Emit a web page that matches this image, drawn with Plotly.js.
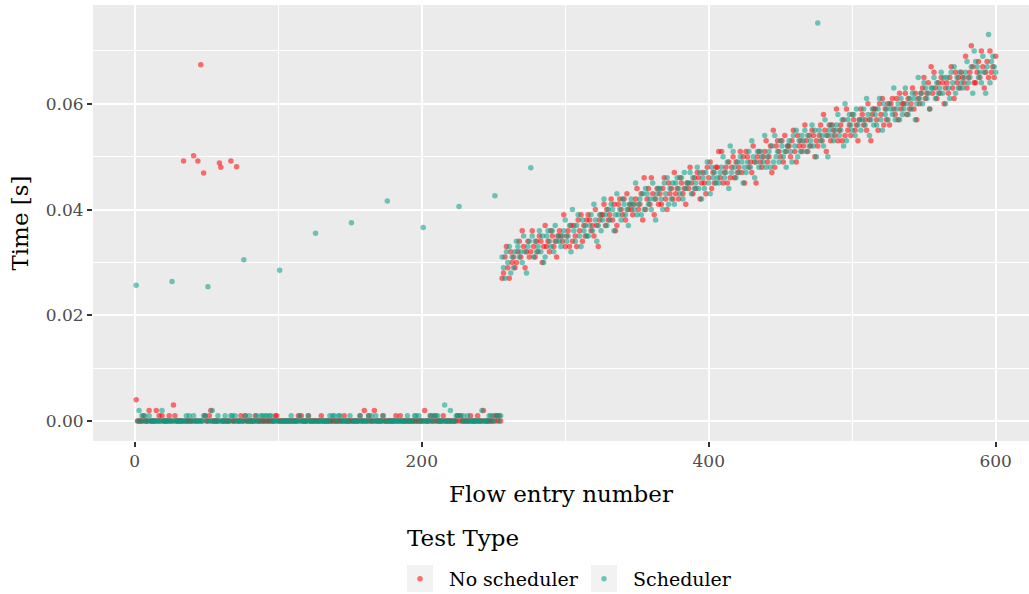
<!DOCTYPE html>
<html>
<head>
<meta charset="utf-8">
<script src="https://cdn.plot.ly/plotly-3.0.1.min.js"></script>
<style>html,body{margin:0;padding:0;background:#fff;}#chart{width:1029px;height:594px;}</style>
</head>
<body>
<div id="chart"></div>
<script>
// Flow entries 1..255 (flat phase), time in milliseconds
const noSchedFlatMs = [
  4,0,0,0,0,1,0,0,0,2, 0,0,0,0,2,0,1,0,1,0, 0,0,0,1,0,
  0,3,1,0,0,0,0,0,49.2,0, 0,0,0,0,0,50.2,0,0,49.2,0, 67.4,0,46.9,1,0,
  0,1,2,0,0,0,0,0,48.8,48.0, 0,0,0,0,0,0,49.2,0,0,0, 48.1,0,0,1,0,
  0,1,0,0,0,0,0,0,1,0, 0,0,0,0,0,0,0,0,0,0, 0,0,1,1,0,
  0,0,0,0,0,0,0,0,0,0, 0,0,0,1,0,1,0,0,0,0, 1,0,0,0,0,
  0,0,0,0,1,0,0,0,0,0, 0,0,0,0,0,0,0,0,0,0, 1,0,0,0,0,
  0,0,0,0,0,0,1,0,0,2, 0,0,1,0,0,0,2,0,0,0, 0,0,1,0,0,
  0,0,0,0,0,0,1,0,0,1, 0,0,0,0,0,0,0,0,0,0, 0,0,0,0,0,
  0,2,0,0,0,1,0,0,1,0, 0,0,0,0,1,0,0,0,0,0, 0,0,0,0,1,
  0,1,0,0,0,0,0,0,1,0, 0,0,0,1,0,0,0,2,0,0, 0,0,0,0,1,0,1,0,1,0
];
const schedFlatMs = [
  25.7,0,2,0,1,0,1,0,0,1, 0,0,0,0,0,0,0,0,2,0, 0,0,0,0,0,
  26.4,0,0,0,0,0,0,0,0,0, 1,0,1,0,0,1,0,0,0,0, 0,0,1,1,0,
  25.4,0,0,2,0,0,0,1,0,0, 0,0,1,0,0,0,1,1,0,1, 0,0,0,0,0,
  30.5,1,0,0,1,0,0,0,0,1, 0,0,1,1,0,1,1,0,1,1, 0,0,0,0,0,
  28.5,0,0,0,0,0,0,0,1,0, 0,0,0,0,1,0,0,0,0,0, 1,0,0,0,0,
  35.5,0,0,0,0,0,0,0,0,0, 1,0,1,1,0,0,1,1,0,0, 0,0,0,0,1,
  37.5,0,0,0,0,0,1,0,0,0, 0,0,1,0,1,0,0,1,0,0, 0,0,1,0,0,
  41.6,0,0,0,0,0,0,0,0,0, 0,0,0,0,1,0,0,0,0,1, 1,0,1,0,0,
  36.6,0,0,0,0,1,0,1,0,1, 1,0,0,0,0,3,0,0,0,2, 0,0,0,1,1,
  40.6,1,0,1,0,0,1,0,0,0, 0,0,0,0,0,0,2,0,0,0, 0,1,1,0,0,42.6,1,1,0,1
];
// Flow entries 256..600 (rising phase), time in milliseconds
const noSchedRiseMs = [
  27,28,31,33,29,27,32,30,31,29, 30,32,34,31,36,33,29,32,34,31,
  32,36,33,31,34,32,35,34,30,33, 37,33,34,32,36,35,33,34,31,35,
  36,35,34,39,33,35,36,33,37,34, 37,35,33,38,36,39,34,37,35,38,
  39,38,36,37,35,40,37,33,38,39, 39,41,37,40,38,39,42,38,41,36,
  37,41,42,40,39,42,38,43,40,41, 40,39,41,42,44,40,41,43,38,46,
  40,42,44,41,46,43,39,42,44,41, 43,41,44,46,42,40,45,43,44,42,
  47,43,44,42,46,45,43,44,41,45, 44,48,45,43,46,44,47,46,42,45,
  47,45,43,48,46,49,44,47,45,48, 48,51,46,51,45,47,48,45,49,46,
  48,50,46,49,47,48,51,47,50,45, 51,50,48,49,47,52,49,45,50,51,
  49,48,50,51,53,49,50,52,47,55, 48,52,53,51,50,53,49,54,51,52,
  52,50,53,55,51,49,54,52,53,51, 52,56,53,51,54,52,55,54,50,53,
  52,54,56,53,58,55,51,54,56,53, 56,55,54,59,53,55,56,53,57,54,
  59,55,56,54,58,57,55,56,53,57, 59,58,56,57,55,60,57,53,58,59,
  59,57,55,60,58,61,56,59,57,60, 56,60,61,59,58,61,57,62,59,60,
  60,62,58,61,59,60,63,59,62,57, 61,60,62,63,65,61,62,64,59,67,
  62,66,63,61,64,62,65,64,60,63, 64,62,65,67,63,61,66,64,65,63,
  66,65,64,69,63,65,66,71,67,64, 64,66,68,65,70,67,63,66,68,65,
  70,66,67,65,69
];
const schedRiseMs = [
  31,29,27,32,30,33,28,31,29,32, 34,33,31,32,30,35,32,28,33,34,
  47.9,35,31,34,32,33,36,32,35,30, 31,35,36,34,33,36,32,37,34,35,
  34,33,35,36,38,34,35,37,32,40, 36,34,37,39,35,33,38,36,37,35,
  35,37,39,36,41,38,34,37,39,36, 38,42,39,37,40,38,41,40,36,39,
  43,39,40,38,42,41,39,40,37,41, 42,41,40,45,39,41,42,39,43,40,
  44,43,41,42,40,45,42,38,43,44, 44,42,40,45,43,46,41,44,42,45,
  41,45,46,44,43,46,42,47,44,45, 45,47,43,46,44,45,48,44,47,42,
  46,44,47,49,45,43,48,46,47,45, 46,45,47,48,50,46,47,49,44,52,
  47,51,48,46,49,47,50,49,45,48, 47,49,51,48,53,50,46,49,51,48,
  51,50,49,54,48,50,51,48,52,49, 54,50,51,49,53,52,50,51,48,52,
  53,51,49,54,52,55,50,53,51,54, 53,55,51,54,52,53,56,52,55,50,
  75.3,55,53,54,52,57,54,50,55,56, 54,53,55,56,58,54,55,57,52,60,
  53,57,58,56,55,58,54,59,56,57, 55,57,59,56,61,58,54,57,59,56,
  58,56,59,61,57,55,60,58,59,57, 60,59,58,63,57,59,60,57,61,58,
  59,63,60,58,61,59,62,61,57,60, 65,61,62,60,64,63,61,62,59,63,
  63,65,61,64,62,63,66,62,65,60, 65,63,61,66,64,67,62,65,63,66,
  64,63,65,66,68,64,65,67,62,70, 68,67,65,66,64,69,66,62,67,73.1,
  64,68,69,67,66
];
const seriesNames = ['No scheduler', 'Scheduler'];
const legendTitle = 'Test Type';
const xTickVals = [0, 200, 400, 600];
const yTickVals = [0, 0.02, 0.04, 0.06];
const yTickText = ['0.00', '0.02', '0.04', '0.06'];

const noSchedMs = noSchedFlatMs.concat(noSchedRiseMs);
const schedMs = schedFlatMs.concat(schedRiseMs);
const flowNo = arr => arr.map((_, i) => i + 1);
const toSec = arr => arr.map(v => v / 1000);

const FONT = '"DejaVu Serif", "Liberation Serif", serif';
const RED = 'rgb(255,0,0)';
const TEAL = 'rgb(0,160,135)';

const traces = [
  {x: flowNo(noSchedMs), y: toSec(noSchedMs), name: seriesNames[0], type: 'scatter', mode: 'markers',
   marker: {color: RED, size: 5.5, opacity: 0.55, line: {width: 0}}},
  {x: flowNo(schedMs), y: toSec(schedMs), name: seriesNames[1], type: 'scatter', mode: 'markers',
   marker: {color: TEAL, size: 5.5, opacity: 0.55, line: {width: 0}}}
];

const FW = 1029, FH = 594;
const L = 93, T = 5, W = 936, H = 436;
function px2paperX(p) { return (p - L) / W; }
function px2paperY(p) { return (T + H - p) / H; }
function px2contY(p) { return (FH - p) / FH; }

const layout = {
  width: FW, height: FH,
  margin: {l: L, r: FW - L - W, t: T, b: FH - T - H, pad: 0, autoexpand: false},
  paper_bgcolor: '#FFFFFF', plot_bgcolor: '#EBEBEB',
  font: {family: FONT, color: '#000'},
  showlegend: true,
  xaxis: {
    range: [-29.1, 623.2], tickvals: xTickVals, ticktext: xTickVals.map(String),
    showgrid: true, gridcolor: '#FFFFFF', gridwidth: 2, zeroline: false, showline: false,
    ticks: 'outside', ticklen: 5, tickwidth: 2, tickcolor: '#333333',
    tickfont: {family: FONT, size: 17, color: '#4D4D4D'},
    minor: {tickvals: [100, 300, 500], showgrid: true, gridcolor: '#FFFFFF', gridwidth: 1, ticks: ''},
    title: {text: 'Flow entry number', font: {family: FONT, size: 23, color: '#000'}, standoff: 15}
  },
  yaxis: {
    range: [-0.00379, 0.0787], tickvals: yTickVals, ticktext: yTickText,
    showgrid: true, gridcolor: '#FFFFFF', gridwidth: 2, zeroline: false, showline: false,
    ticks: 'outside', ticklen: 5, tickwidth: 2, tickcolor: '#333333',
    tickfont: {family: FONT, size: 17, color: '#4D4D4D'},
    minor: {tickvals: [0.01, 0.03, 0.05, 0.07], showgrid: true, gridcolor: '#FFFFFF', gridwidth: 1, ticks: ''},
    title: {text: 'Time [s]', font: {family: FONT, size: 23, color: '#000'}, standoff: 10}
  },
  legend: {
    orientation: 'h', x: px2paperX(391), xanchor: 'left', yref: 'container', y: px2contY(579), yanchor: 'middle',
    bgcolor: 'rgba(0,0,0,0)', borderwidth: 0, font: {family: FONT, size: 19, color: '#000'},
    itemwidth: 48, entrywidth: 121, entrywidthmode: 'pixels',
    itemsizing: 'trace', traceorder: 'normal'
  },
  annotations: [
    {text: legendTitle, xref: 'paper', yref: 'paper', x: px2paperX(405), y: px2paperY(538),
     xanchor: 'left', yanchor: 'middle', showarrow: false, font: {family: FONT, size: 23, color: '#000'}}
  ],
  shapes: [
    {type: 'rect', xref: 'paper', yref: 'paper', layer: 'below', line: {width: 0}, fillcolor: '#F2F2F2',
     x0: px2paperX(407), x1: px2paperX(433), y0: px2paperY(592), y1: px2paperY(565)},
    {type: 'rect', xref: 'paper', yref: 'paper', layer: 'below', line: {width: 0}, fillcolor: '#F2F2F2',
     x0: px2paperX(591), x1: px2paperX(617), y0: px2paperY(592), y1: px2paperY(565)}
  ],
  hovermode: false
};

Plotly.newPlot('chart', traces, layout, {displayModeBar: false, staticPlot: true});
</script>
</body>
</html>
